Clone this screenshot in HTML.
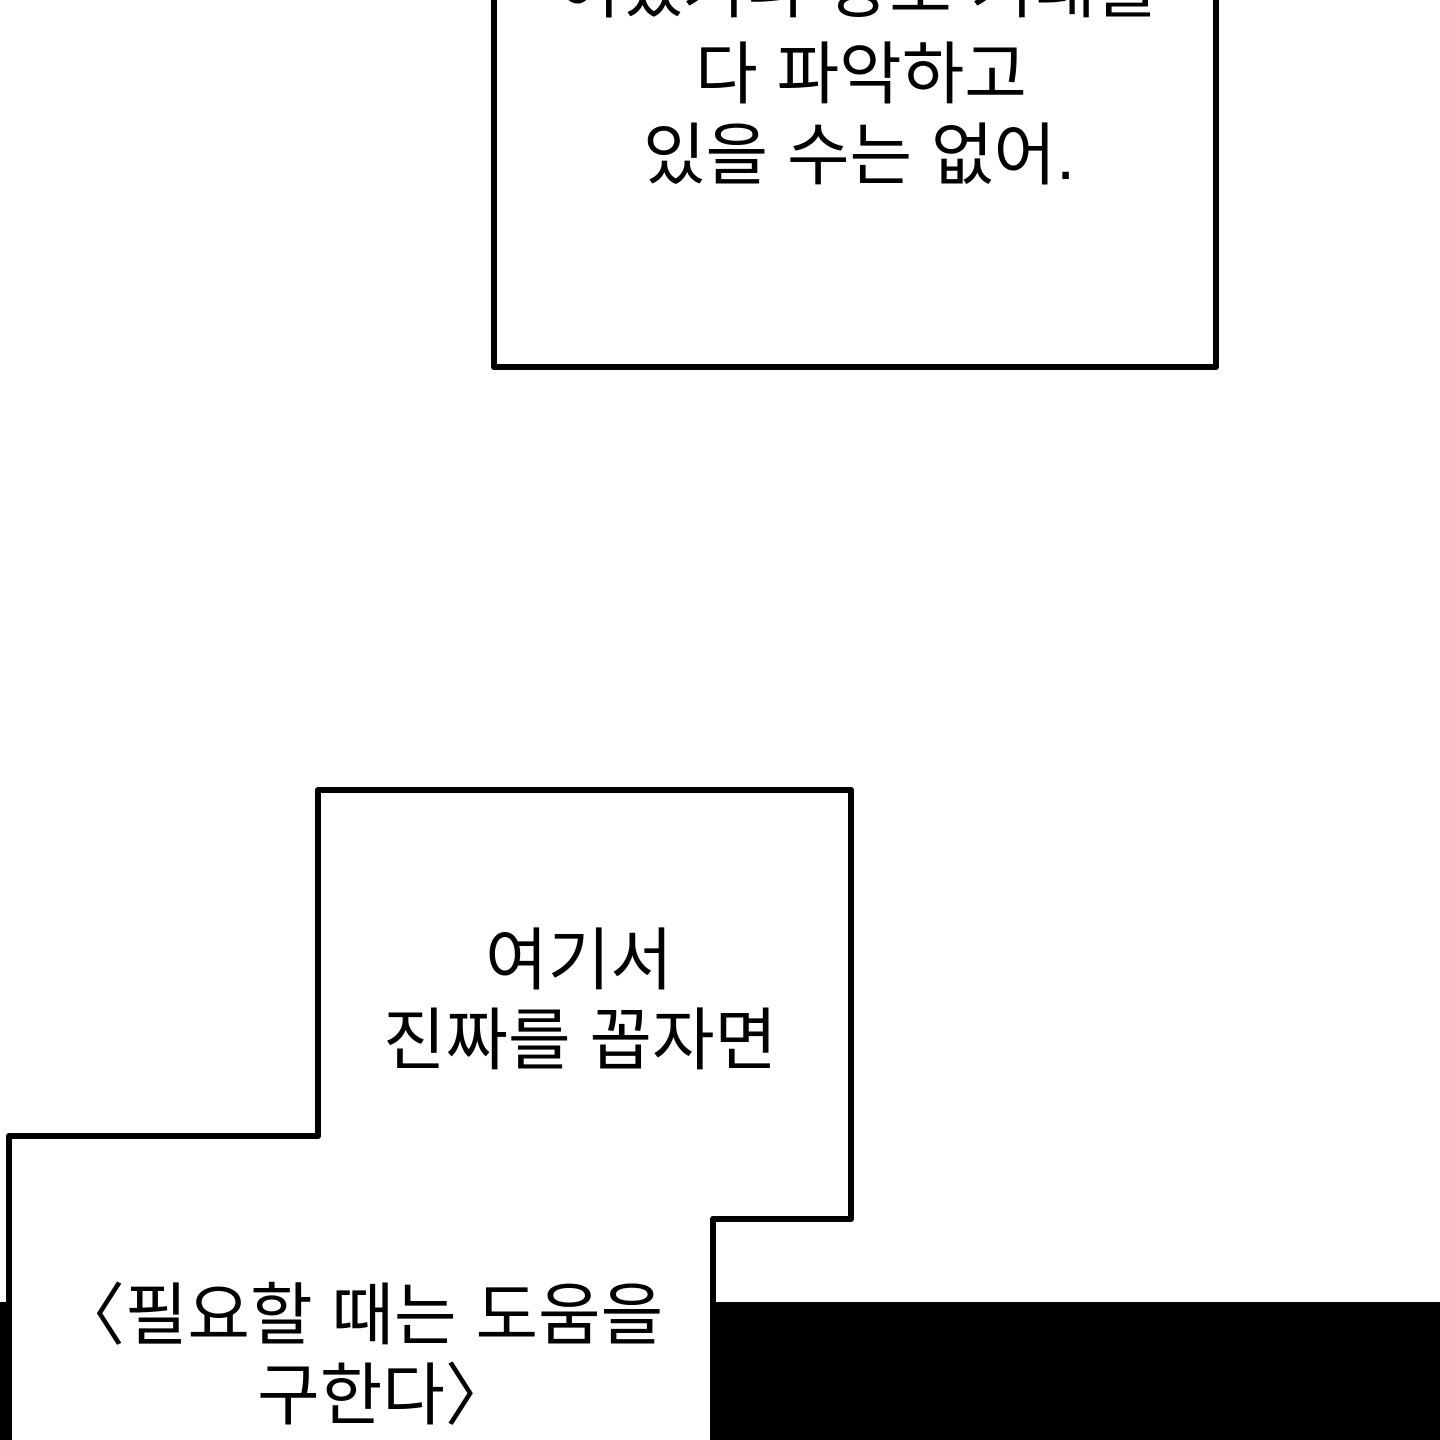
<!DOCTYPE html>
<html><head><meta charset="utf-8"><style>
html,body{margin:0;padding:0;background:#fff;}
svg{display:block;}
text{font-family:"Liberation Sans","Noto Sans CJK KR","NanumGothic",sans-serif;font-size:68px;fill:#000;text-anchor:middle;}
</style></head><body>
<svg width="1440" height="1440" viewBox="0 0 1440 1440" xmlns="http://www.w3.org/2000/svg">
<rect width="1440" height="1440" fill="#fff"/>
<path d="M494 -10 L494 367 L1216 367 L1216 -10" fill="none" stroke="#000" stroke-width="6" stroke-linejoin="round"/>
<text x="858" y="12">어쨌거나 상도 거래를</text>
<text x="861" y="98">다 파악하고</text>
<text x="859" y="179">있을 수는 없어.</text>
<rect x="714" y="1302" width="726" height="138" fill="#000"/>
<rect x="0" y="1302" width="8" height="138" fill="#000"/>
<path d="M9 1445 L9 1136 L318 1136 L318 790 L851 790 L851 1219 L713 1219 L713 1445" fill="#fff" stroke="#000" stroke-width="6" stroke-linejoin="round"/>
<rect x="716" y="1302" width="4" height="138" fill="#000"/>
<text x="579" y="984">여기서</text>
<text x="580" y="1064">진짜를 꼽자면</text>
<text x="360" y="1339">〈필요할 때는 도움을</text>
<text x="385" y="1419">구한다〉</text>
</svg>
</body></html>
